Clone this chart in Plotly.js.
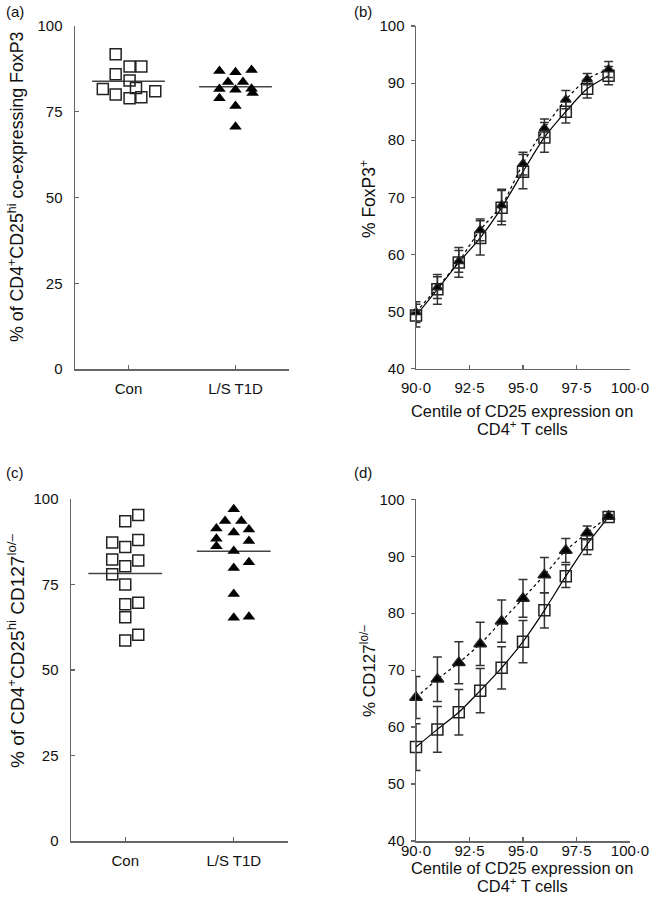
<!DOCTYPE html>
<html>
<head>
<meta charset="utf-8">
<script src="https://cdn.plot.ly/plotly-3.0.1.min.js"></script>
<style>
  html, body { margin: 0; padding: 0; background: #fff; }
  #chart { width: 650px; height: 913px; }
</style>
</head>
<body>
<div id="chart"></div>
<script>
// ---- panel (a): % of CD4+CD25hi co-expressing FoxP3 ----
var groups = ['Con', 'L/S T1D'];

var aConVals = [91.8, 88.2, 88.2, 85.9, 84.1, 81.6, 81.9, 81.0, 80.0, 78.9, 79.2];
var aConJit = [-0.12, 0.01, 0.12, -0.12, 0.01, -0.24, 0.07, 0.25, -0.12, 0.01, 0.12];
var aT1dVals = [86.9, 86.5, 87.2, 83.7, 83.7, 81.6, 81.4, 81.7, 80.5, 78.9, 76.7, 70.6];
var aT1dJit = [-0.15, 0, 0.15, -0.07, 0.07, -0.15, 0, 0.15, 0.16, -0.15, 0, 0];
var aMeans = [83.9, 82.3];

// ---- panel (c): % of CD4+CD25hi CD127lo/- ----
var cConVals = [95.3, 93.5, 88.0, 87.3, 86.0, 82.0, 82.3, 80.3, 78.0, 75.0, 69.7, 69.2, 65.4, 60.3, 58.6];
var cConJit = [0.12, 0, 0.12, -0.12, 0, 0.12, -0.12, 0, -0.12, 0, 0.12, 0, 0, 0.12, 0];
var cT1dVals = [97.0, 93.6, 93.6, 91.4, 90.2, 91.1, 88.4, 87.7, 86.2, 84.8, 81.5, 79.8, 72.2, 65.3, 65.6];
var cT1dJit = [0, -0.08, 0.07, -0.16, 0, 0.14, -0.16, 0.14, -0.16, 0, 0.14, 0, 0, 0, 0.14];
var cMeans = [78.2, 84.7];

// ---- panels (b) and (d): centile of CD25 expression ----
var centile = [90, 91, 92, 93, 94, 95, 96, 97, 98, 99];
var centTicks = [90, 92.5, 95, 97.5, 100];
var centTickText = ['90·0', '92·5', '95·0', '97·5', '100·0'];

var bCon = [49.3, 53.9, 58.6, 62.9, 68.2, 74.5, 80.5, 85.0, 89.0, 91.3];
var bConErr = [2.0, 2.6, 2.6, 3.0, 3.0, 3.0, 2.6, 2.0, 1.6, 1.6];
var bT1d = [49.9, 54.2, 58.8, 64.3, 68.6, 75.9, 82.1, 87.1, 90.7, 92.4];
var bT1dErr = [1.8, 1.9, 1.9, 1.9, 2.8, 2.0, 1.6, 1.6, 1.0, 1.4];

var dCon = [56.5, 59.6, 62.6, 66.4, 70.4, 75.0, 80.5, 86.5, 92.1, 96.9];
var dConErr = [4.1, 4.0, 4.0, 3.9, 3.7, 3.7, 3.1, 2.0, 1.8, 0.3];
var dT1d = [65.2, 68.4, 71.3, 74.6, 78.6, 82.6, 86.7, 91.0, 94.1, 97.0];
var dT1dErr = [3.7, 3.9, 3.7, 3.8, 3.7, 3.3, 3.1, 2.1, 1.2, 0.3];

var W = 650, H = 913;
function px(x) { return x / W; }
function py(y) { return 1 - y / H; }

var font = 'Liberation Sans, Arial, sans-serif';
var ink = '#222';
var axisCol = '#666';

function jitterX(center, jit) { return jit.map(function (j) { return center + j; }); }

function meanLine(idx, mean, xa, ya) {
  return {
    x: [idx - 0.34, idx + 0.34], y: [mean, mean], xaxis: xa, yaxis: ya,
    mode: 'lines', line: {color: '#444', width: 1.5}, hoverinfo: 'skip', showlegend: false
  };
}

function squares(x, y, xa, ya, size) {
  return {
    x: x, y: y, xaxis: xa, yaxis: ya, mode: 'markers', cliponaxis: false, showlegend: false,
    marker: {symbol: 'square-open', size: size, color: ink, line: {width: 1.5, color: ink}}
  };
}

function triangles(x, y, xa, ya, size) {
  return {
    x: x, y: y, xaxis: xa, yaxis: ya, mode: 'markers', cliponaxis: false, showlegend: false,
    marker: {symbol: 'triangle-up', size: size, color: '#000'}
  };
}

function curve(y, err, xa, ya, symbol, size, dash) {
  return {
    x: centile, y: y, xaxis: xa, yaxis: ya, mode: 'lines+markers', cliponaxis: false, showlegend: false,
    line: {color: '#000', width: 1.2, shape: 'spline', smoothing: 0.8, dash: dash},
    marker: {symbol: symbol, size: size, color: symbol === 'square-open' ? ink : '#000', line: {width: 1.5, color: ink}},
    error_y: {type: 'data', array: err, visible: true, color: '#333', thickness: 1.5, width: 4.5}
  };
}

var data = [
  meanLine(1, aMeans[0], 'x', 'y'),
  meanLine(2, aMeans[1], 'x', 'y'),
  squares(jitterX(1, aConJit), aConVals, 'x', 'y', 11),
  triangles(jitterX(2, aT1dJit), aT1dVals, 'x', 'y', 11),

  curve(bCon, bConErr, 'x2', 'y2', 'square-open', 11, 'solid'),
  curve(bT1d, bT1dErr, 'x2', 'y2', 'triangle-up', 9, 'dot'),

  meanLine(1, cMeans[0], 'x3', 'y3'),
  meanLine(2, cMeans[1], 'x3', 'y3'),
  squares(jitterX(1, cConJit), cConVals, 'x3', 'y3', 11),
  triangles(jitterX(2, cT1dJit), cT1dVals, 'x3', 'y3', 11),

  curve(dCon, dConErr, 'x4', 'y4', 'square-open', 11, 'solid'),
  curve(dT1d, dT1dErr, 'x4', 'y4', 'triangle-up', 11, 'dot')
];

function baseAxis(extra) {
  var a = {
    showline: true, linecolor: axisCol, linewidth: 1.5, showgrid: false, zeroline: false,
    ticks: 'inside', ticklen: 4, tickcolor: axisCol, tickwidth: 1.2, ticklabeloverflow: 'allow',
    tickfont: {family: font, size: 15, color: '#111'}, fixedrange: true
  };
  for (var k in extra) a[k] = extra[k];
  return a;
}

var catX = {range: [0.5, 2.5], tickvals: [1, 2], ticktext: groups, ticklabelstandoff: 5};
var centX = {range: [90, 100], tickvals: centTicks, ticktext: centTickText};

var layout = {
  width: W, height: H,
  margin: {l: 0, r: 0, t: 0, b: 0},
  paper_bgcolor: '#fff', plot_bgcolor: 'rgba(0,0,0,0)',
  showlegend: false,
  font: {family: font, color: '#111'},
  xaxis: baseAxis(Object.assign({domain: [px(75), px(289)], anchor: 'y'}, catX)),
  yaxis: baseAxis({domain: [py(369), py(26)], anchor: 'x', range: [0, 100], tickvals: [0, 25, 50, 75, 100], ticklabelstandoff: 8}),
  xaxis2: baseAxis(Object.assign({domain: [px(416), px(630)], anchor: 'y2', ticklabelstandoff: 5}, centX)),
  yaxis2: baseAxis({domain: [py(368.7), py(26)], anchor: 'x2', range: [40, 100], dtick: 10, ticks: 'outside', ticklabelstandoff: 3}),
  xaxis3: baseAxis(Object.assign({domain: [px(71), px(288)], anchor: 'y3'}, catX)),
  yaxis3: baseAxis({domain: [py(841), py(499)], anchor: 'x3', range: [0, 100], tickvals: [0, 25, 50, 75, 100], ticklabelstandoff: 8}),
  xaxis4: baseAxis(Object.assign({domain: [px(416), px(630)], anchor: 'y4', ticklabelstandoff: -5}, centX)),
  yaxis4: baseAxis({domain: [py(841), py(499.3)], anchor: 'x4', range: [40, 100], dtick: 10, ticks: 'outside', ticklabelstandoff: 3}),
  annotations: []
};

function note(text, x, y, size, opts) {
  var a = {text: text, x: px(x), y: py(y), xref: 'paper', yref: 'paper', showarrow: false,
    font: {family: font, size: size, color: '#111'}, xanchor: 'center', yanchor: 'middle'};
  for (var k in opts) a[k] = opts[k];
  layout.annotations.push(a);
}

// panel letters
note('(a)', 4, 12, 15, {xanchor: 'left'});
note('(b)', 352, 12, 15, {xanchor: 'left'});
note('(c)', 4, 472, 15, {xanchor: 'left'});
note('(d)', 352, 472, 15, {xanchor: 'left'});

// y titles
note('% of CD4<sup>+</sup>CD25<sup>hi</sup> co-expressing FoxP3', 16, 187, 17.8, {textangle: -90});
note('% FoxP3<sup>+</sup>', 368, 199, 17.5, {textangle: -90});
note('% of CD4<sup>+</sup>CD25<sup>hi</sup> CD127<sup>lo/–</sup>', 16, 651, 19, {textangle: -90});
note('% CD127<sup>lo/–</sup>', 368, 671, 17, {textangle: -90});

// x titles
note('Centile of CD25 expression on', 522, 411, 16.4);
note('CD4<sup>+</sup> T cells', 522, 428, 16.4);
note('Centile of CD25 expression on', 522, 868, 16.4);
note('CD4<sup>+</sup> T cells', 522, 885, 16.4);

Plotly.newPlot('chart', data, layout, {staticPlot: true});
</script>
</body>
</html>
